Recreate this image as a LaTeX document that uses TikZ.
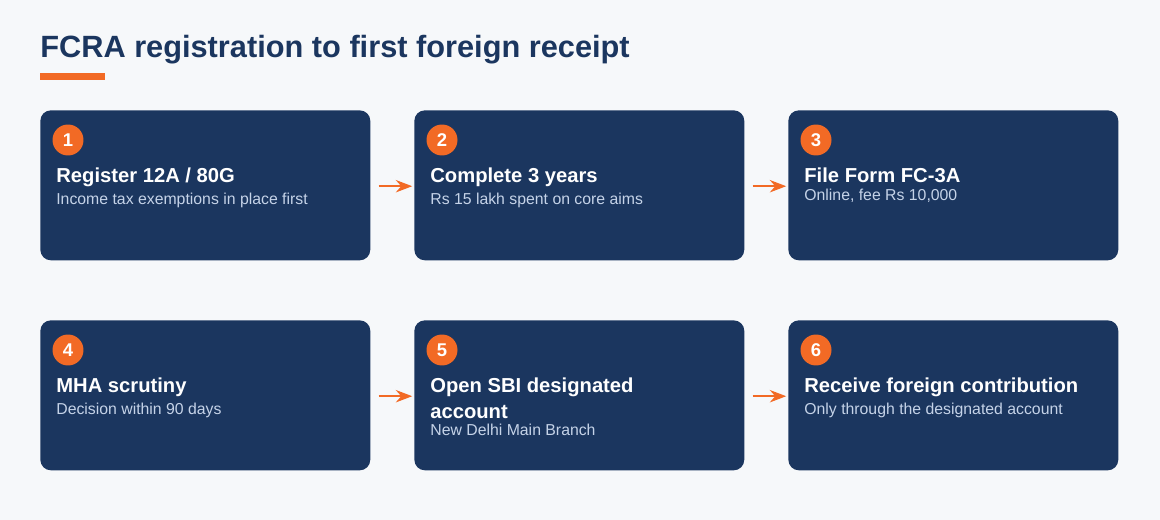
\documentclass[tikz,border=0pt]{standalone}
\usepackage{fontspec}
\setmainfont{Liberation Sans}
\usetikzlibrary{positioning, arrows.meta, calc}
\definecolor{navy}{HTML}{1B365F}
\definecolor{accent}{HTML}{F26A25}
\definecolor{page}{HTML}{F6F8FA}
\definecolor{subtext}{HTML}{C5D3E8}
\begin{document}
\begin{tikzpicture}[
        x=0.02cm, y=-0.02cm,
        >=Stealth,
        stage/.style={draw=none, fill=navy, rounded corners=6pt, minimum width=6.6cm, minimum height=3cm, inner sep=0pt},
        badge/.style={circle, fill=accent, minimum size=0.62cm, inner sep=0pt, text=white, font=\bfseries\fontsize{10.5}{12}\selectfont},
        heading/.style={anchor=north west, inner sep=0pt, text=white, align=left, font=\bfseries\fontsize{11.5}{14.5}\selectfont},
        note/.style={anchor=north west, inner sep=0pt, text=subtext, align=left, font=\fontsize{9}{11}\selectfont},
        flow/.style={->, draw=accent, line width=1.4pt, shorten <=4.5pt, shorten >=1pt},
    ]
    % page and title
    \fill[page] (0,0) rectangle (1160,520);
    \useasboundingbox (0,0) rectangle (1160,520);
    \node[anchor=base west, inner sep=0pt, text=navy, font=\bfseries\fontsize{17.5}{20}\selectfont] (title) at (40,58) {FCRA registration to first foreign receipt};
    \fill[accent] (40,73) rectangle (105,80);

    % the six steps
    \foreach \name / \x / \y / \head / \sub in {
            1/40/110/{Register 12A / 80G}/{Income tax exemptions in place first},
            2/414/110/{Complete 3 years}/{Rs 15 lakh spent on core aims},
            3/788/110/{File Form FC-3A}/{Online, fee Rs 10,000},
            4/40/320/{MHA scrutiny}/{Decision within 90 days},
            5/414/320/{Open SBI designated\\account}/{New Delhi Main Branch},
            6/788/320/{Receive foreign contribution}/{Only through the designated account}} {
        \node[stage, anchor=north west] (S-\name) at (\x,\y) {};
        \node[badge] (B-\name) at ($(\x,\y)+(28,30)$) {\name};
        \node[heading] (H-\name) at ($(\x,\y)+(16,58)$) {\head};
        \node[note, below=0.1cm of H-\name.south west, anchor=north west] (N-\name) {\sub};
    }

    % arrows between steps
    \foreach \source / \dest in {1/2, 2/3, 4/5, 5/6}
        \draw[flow] ([yshift=-0.5pt]S-\source.east) -- ([yshift=-0.5pt]S-\dest.west);
\end{tikzpicture}
\end{document}
